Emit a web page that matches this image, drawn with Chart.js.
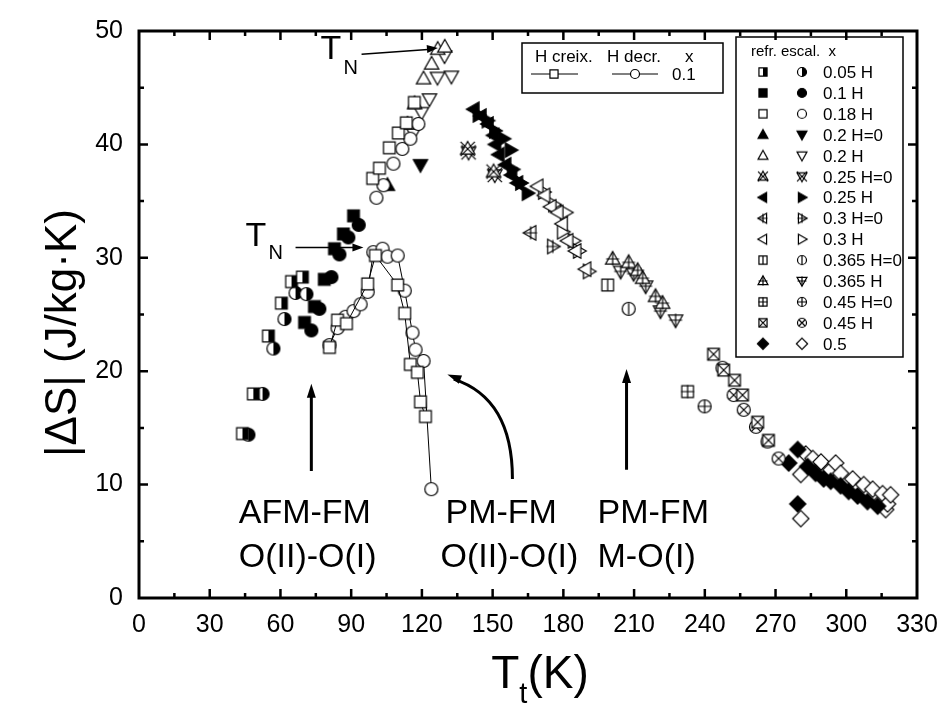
<!DOCTYPE html>
<html>
<head>
<meta charset="utf-8">
<script src="https://cdn.jsdelivr.net/npm/chart.js@4/dist/chart.umd.min.js"></script>
<style>
  html, body { margin: 0; background: #fff; }
</style>
</head>
<body>
<canvas id="chart" width="950" height="711"></canvas>
<script>
// [T (K), |dS| (J/kg K)]
const x005Refr = [[43.9,14.5],[48.5,18.0],[54.9,23.1],[60.4,26.0],[64.7,27.9],[69.3,28.3]];
const x005Escal = [[46.4,14.4],[52.4,18.0],[57.0,22.0],[61.7,24.6],[66.4,26.9],[71.0,26.8]];
const x01Refr = [[70.2,24.3],[74.4,25.7],[78.6,28.1],[82.9,30.8],[86.7,32.1],[91.0,33.7]];
const x01Escal = [[73.1,23.6],[76.5,25.5],[81.6,28.3],[85.0,30.3],[88.8,31.8],[93.2,32.9]];
const x018Refr = [[99.1,37.0],[102.0,37.9],[106.2,39.7],[110.0,41.0],[113.4,41.9],[116.8,43.7]];
const x018Escal = [[100.7,35.3],[103.7,36.4],[107.9,38.3],[111.7,39.6],[115.1,40.5],[118.5,41.8]];
const x02H0Refr = [[105.4,36.4]];
const x02H0Escal = [[119.4,38.2]];
const x02HRefr = [[113.9,41.8],[116.9,43.6],[120.7,45.8],[124.1,47.1],[126.7,48.4],[129.7,48.6]];
const x02HEscal = [[116.4,41.0],[119.8,42.8],[123.2,44.0],[126.6,45.9],[132.5,46.0],[129.6,47.8]];
const x025H0Refr = [[139.4,39.6],[150.4,37.6]];
const x025H0Escal = [[139.8,39.3],[150.9,37.3]];
const x025HRefr = [[142.0,43.1],[145.0,42.5],[148.0,41.8],[150.4,40.8],[151.2,40.0],[152.6,39.1],[155.5,38.2],[158.0,37.3],[160.5,36.6]];
const x025HEscal = [[144.0,42.6],[147.8,42.1],[151.0,41.2],[154.6,40.5],[157.6,39.5],[158.5,37.8],[162.0,36.6],[164.8,35.7]];
const x03H0Refr = [[166.1,32.2]];
const x03H0Escal = [[175.5,31.0]];
const x03HRefr = [[169.1,36.3],[172.0,35.5],[174.6,34.5],[177.6,34.0],[179.5,33.0],[181.8,31.5],[185.2,30.6],[189.4,29.0]];
const x03HEscal = [[171.7,35.8],[176.0,34.7],[181.0,34.0],[179.7,32.3],[184.3,31.5],[186.5,30.6],[190.7,28.8]];
const x0365H0Refr = [[198.8,27.6]];
const x0365H0Escal = [[207.7,25.5]];
const x0365HRefr = [[200.9,29.9],[207.7,29.6],[211.5,28.9],[213.6,28.2],[219.1,26.6],[222.1,26.0]];
const x0365HEscal = [[204.3,28.8],[209.8,28.6],[214.9,27.5],[221.2,25.3],[227.6,24.5]];
const x045H0Refr = [[232.7,18.2]];
const x045H0Escal = [[239.9,16.9]];
const x045HRefr = [[243.7,21.5],[248.0,20.1],[252.6,19.2],[256.0,17.9],[262.4,15.5],[267.0,13.9]];
const x045HEscal = [[247.5,20.3],[252.2,17.9],[256.5,16.6],[261.7,15.1],[266.6,13.8],[271.3,12.3]];
const x05Refr = [[275.6,11.9],[279.4,13.1],[279.4,8.3],[283.6,11.6],[287.0,11.0],[290.4,10.5],[293.4,10.3],[297.6,9.9],[301.0,9.4],[304.8,9.0],[309.0,8.5],[313.3,8.1]];
const x05Escal = [[280.7,10.9],[280.7,7.0],[282.8,12.7],[285.8,12.3],[289.3,12.0],[293.4,11.3],[295.5,11.9],[297.6,11.0],[302.7,10.5],[307.4,10.0],[311.2,9.6],[314.6,8.5],[315.4,9.2],[316.7,7.8],[317.5,8.3],[318.8,9.1]];
// x = 0.1 measured with increasing / decreasing field (joined by lines)
const hCreix01 = [[80.8,22.1],[84.2,24.5],[88.0,24.2],[97.0,27.7],[100.3,30.2],[109.7,27.6],[112.7,25.1],[115.1,20.6],[118.1,19.9],[119.4,17.3],[121.5,16.0]];
const hDecr01 = [[80.8,22.3],[84.2,23.8],[87.6,24.8],[91.0,25.3],[94.0,25.9],[97.0,27.0],[99.4,30.5],[103.3,30.8],[105.4,30.1],[109.7,30.2],[112.7,27.1],[116.0,23.4],[117.3,21.9],[120.7,20.9],[124.0,9.6]];

const xTicks = [0, 30, 60, 90, 120, 150, 180, 210, 240, 270, 300, 330];
const yTicks = [0, 10, 20, 30, 40, 50];
const legendLabels = ['0.05 H','0.1 H','0.18 H','0.2 H=0','0.2 H','0.25 H=0','0.25 H','0.3 H=0','0.3 H','0.365 H=0','0.365 H','0.45 H=0','0.45 H','0.5'];

const FONT = '"Liberation Sans", Arial, Helvetica, sans-serif';

// marker pictures: shape, fill ('w' white, 'b' black, 'h' half), overlay
function marker(shape, fill, over, size) {
  const d = Math.ceil(size * 1.5) + 4;
  const c = document.createElement('canvas');
  c.width = d; c.height = d;
  const g = c.getContext('2d');
  const m = d / 2, r = size / 2;
  const path = () => {
    g.beginPath();
    if (shape === 'sq') g.rect(m - r * 0.9, m - r * 0.9, r * 1.8, r * 1.8);
    else if (shape === 'ci') g.arc(m, m, r, 0, Math.PI * 2);
    else if (shape === 'up') { g.moveTo(m, m - r * 1.15); g.lineTo(m + r * 1.1, m + r * 0.8); g.lineTo(m - r * 1.1, m + r * 0.8); g.closePath(); }
    else if (shape === 'dn') { g.moveTo(m, m + r * 1.15); g.lineTo(m + r * 1.1, m - r * 0.8); g.lineTo(m - r * 1.1, m - r * 0.8); g.closePath(); }
    else if (shape === 'lt') { g.moveTo(m - r * 1.15, m); g.lineTo(m + r * 0.8, m - r * 1.1); g.lineTo(m + r * 0.8, m + r * 1.1); g.closePath(); }
    else if (shape === 'rt') { g.moveTo(m + r * 1.15, m); g.lineTo(m - r * 0.8, m - r * 1.1); g.lineTo(m - r * 0.8, m + r * 1.1); g.closePath(); }
    else if (shape === 'di') { g.moveTo(m, m - r * 1.25); g.lineTo(m + r * 1.25, m); g.lineTo(m, m + r * 1.25); g.lineTo(m - r * 1.25, m); g.closePath(); }
  };
  g.lineWidth = 1.2;
  g.strokeStyle = '#000';
  path();
  g.fillStyle = fill === 'b' ? '#000' : '#fff';
  g.fill();
  if (fill === 'h') {
    g.save();
    g.beginPath(); g.rect(m, 0, d, d); g.clip();
    path(); g.fillStyle = '#000'; g.fill();
    g.restore();
  }
  path(); g.stroke();
  g.beginPath();
  const k = shape === 'ci' ? r * 0.72 : r * 0.9;
  if (over === 'x') { g.moveTo(m - k, m - k); g.lineTo(m + k, m + k); g.moveTo(m + k, m - k); g.lineTo(m - k, m + k); }
  if (over === 'bx') { g.moveTo(m - r * 1.1, m - r * 1.1); g.lineTo(m + r * 1.1, m + r * 1.1); g.moveTo(m + r * 1.1, m - r * 1.1); g.lineTo(m - r * 1.1, m + r * 1.1); }
  if (over === '+') { g.moveTo(m - r, m); g.lineTo(m + r, m); g.moveTo(m, m - r); g.lineTo(m, m + r); }
  if (over === '|') { g.moveTo(m, m - r * 0.9); g.lineTo(m, m + r * 0.9); }
  g.stroke();
  return c;
}

// one entry per legend row: [refr data, escal data, refr marker, escal marker]
const rows = [
  [x005Refr, x005Escal, ['sq','h'], ['ci','h']],
  [x01Refr, x01Escal, ['sq','b'], ['ci','b']],
  [x018Refr, x018Escal, ['sq','w'], ['ci','w']],
  [x02H0Refr, x02H0Escal, ['up','b'], ['dn','b']],
  [x02HRefr, x02HEscal, ['up','w'], ['dn','w']],
  [x025H0Refr, x025H0Escal, ['up','w','bx'], ['dn','w','bx']],
  [x025HRefr, x025HEscal, ['lt','b'], ['rt','b']],
  [x03H0Refr, x03H0Escal, ['lt','w','+'], ['rt','w','+']],
  [x03HRefr, x03HEscal, ['lt','w'], ['rt','w']],
  [x0365H0Refr, x0365H0Escal, ['sq','w','|'], ['ci','w','|']],
  [x0365HRefr, x0365HEscal, ['up','w','+'], ['dn','w','+']],
  [x045H0Refr, x045H0Escal, ['sq','w','+'], ['ci','w','+']],
  [x045HRefr, x045HEscal, ['sq','w','x'], ['ci','w','x']],
  [x05Refr, x05Escal, ['di','b'], ['di','w']]
];

const toPts = arr => arr.map(p => ({ x: p[0], y: p[1] }));
const datasets = [];
rows.forEach((row, i) => {
  datasets.push({ label: legendLabels[i] + ' refr', data: toPts(row[0]), pointStyle: marker(row[2][0], row[2][1], row[2][2], 13), pointRadius: 6, showLine: false });
  datasets.push({ label: legendLabels[i] + ' escal', data: toPts(row[1]), pointStyle: marker(row[3][0], row[3][1], row[3][2], 13), pointRadius: 6, showLine: false });
});
datasets.push({ label: 'H creix.', data: toPts(hCreix01), pointStyle: marker('sq','w',null,13), pointRadius: 6, showLine: true, borderColor: '#000', borderWidth: 1 });
datasets.push({ label: 'H decr.', data: toPts(hDecr01), pointStyle: marker('ci','w',null,13), pointRadius: 6, showLine: true, borderColor: '#000', borderWidth: 1 });

const smallMarks = rows.map(row => [marker(row[2][0], row[2][1], row[2][2], 9), marker(row[3][0], row[3][1], row[3][2], 9)]);

function arrowHead(ctx, x1, y1, x2, y2, len, wid) {
  const a = Math.atan2(y2 - y1, x2 - x1);
  ctx.beginPath();
  ctx.moveTo(x2, y2);
  ctx.lineTo(x2 - len * Math.cos(a) + wid * Math.sin(a), y2 - len * Math.sin(a) - wid * Math.cos(a));
  ctx.lineTo(x2 - len * Math.cos(a) - wid * Math.sin(a), y2 - len * Math.sin(a) + wid * Math.cos(a));
  ctx.closePath();
  ctx.fill();
}

const deco = {
  id: 'deco',
  afterDraw(chart) {
    const ctx = chart.ctx;
    const { left, right, top, bottom } = chart.chartArea;
    const sx = chart.scales.x, sy = chart.scales.y;
    const X = v => sx.getPixelForValue(v), Y = v => sy.getPixelForValue(v);
    ctx.save();
    ctx.strokeStyle = '#000';
    ctx.fillStyle = '#000';
    // frame and inward ticks
    ctx.lineWidth = 3;
    ctx.strokeRect(left, top, right - left, bottom - top);
    ctx.lineWidth = 2.5;
    ctx.beginPath();
    for (let v = 15; v < 330; v += 15) {
      const len = v % 30 === 0 ? 9 : 5, px = X(v);
      ctx.moveTo(px, bottom); ctx.lineTo(px, bottom - len);
      ctx.moveTo(px, top); ctx.lineTo(px, top + len);
    }
    for (let v = 5; v < 50; v += 5) {
      const len = v % 10 === 0 ? 9 : 5, py = Y(v);
      ctx.moveTo(left, py); ctx.lineTo(left + len, py);
      ctx.moveTo(right, py); ctx.lineTo(right - len, py);
    }
    ctx.stroke();

    // axis titles
    ctx.textBaseline = 'alphabetic';
    ctx.font = '44px ' + FONT;
    ctx.save();
    ctx.translate(76, 333);
    ctx.rotate(-Math.PI / 2);
    ctx.textAlign = 'center';
    ctx.fillText('|\u0394S| (J/kg\u00b7K)', 0, 0);
    ctx.restore();
    ctx.textAlign = 'left';
    ctx.font = '46px ' + FONT;
    const wT = ctx.measureText('T').width, wK = ctx.measureText('(K)').width;
    ctx.font = '29px ' + FONT;
    const wt = ctx.measureText('t').width;
    let x0 = 540 - (wT + wt + wK) / 2;
    ctx.font = '46px ' + FONT;
    ctx.fillText('T', x0, 688);
    ctx.font = '29px ' + FONT;
    ctx.fillText('t', x0 + wT, 703);
    ctx.font = '46px ' + FONT;
    ctx.fillText('(K)', x0 + wT + wt, 688);

    // annotations
    ctx.font = '34px ' + FONT;
    ctx.fillText('T', X(77.0), Y(47.5));
    ctx.fillText('T', X(45.2), Y(31.0));
    ctx.font = '20px ' + FONT;
    ctx.fillText('N', X(86.7), Y(46.2));
    ctx.fillText('N', X(54.9), Y(29.9));
    ctx.lineWidth = 1.5;
    ctx.beginPath();
    ctx.moveTo(X(94.4), Y(47.95)); ctx.lineTo(X(124), Y(48.4));
    ctx.moveTo(X(66.4), Y(30.9)); ctx.lineTo(X(92), Y(30.9));
    ctx.stroke();
    arrowHead(ctx, X(94.4), Y(47.95), X(126.8), Y(48.5), 11, 4);
    arrowHead(ctx, X(66.4), Y(30.9), X(95.2), Y(30.9), 11, 4);

    ctx.lineWidth = 3;
    ctx.beginPath();
    ctx.moveTo(X(73.1), Y(11.2)); ctx.lineTo(X(73.1), Y(17.8));
    ctx.moveTo(X(206.8), Y(11.3)); ctx.lineTo(X(206.8), Y(19.1));
    ctx.moveTo(X(158.4), Y(10.5));
    ctx.quadraticCurveTo(X(158.4), Y(17.6), X(133.5), Y(19.3));
    ctx.stroke();
    arrowHead(ctx, X(73.1), Y(11.2), X(73.1), Y(18.9), 14, 4.5);
    arrowHead(ctx, X(206.8), Y(11.3), X(206.8), Y(20.2), 14, 4.5);
    arrowHead(ctx, X(137), Y(19.2), X(130.8), Y(19.7), 14, 4.5);

    ctx.font = '34px ' + FONT;
    ctx.fillText('AFM-FM', X(42.3), Y(6.63));
    ctx.fillText('O(II)-O(I)', X(42.3), Y(2.7));
    ctx.fillText('PM-FM', X(130.0), Y(6.63));
    ctx.fillText('O(II)-O(I)', X(127.9), Y(2.7));
    ctx.fillText('PM-FM', X(194.5), Y(6.63));
    ctx.fillText('M-O(I)', X(194.5), Y(2.7));

    // legend for the x = 0.1 field runs
    ctx.lineWidth = 1.5;
    ctx.strokeRect(522, 43, 201, 50);
    ctx.font = '17px ' + FONT;
    ctx.fillText('H creix.', 535, 62);
    ctx.fillText('H decr.', 607, 62);
    ctx.fillText('x', 685, 62);
    ctx.fillText('0.1', 672, 80);
    ctx.lineWidth = 1;
    ctx.beginPath();
    ctx.moveTo(531, 74); ctx.lineTo(578, 74);
    ctx.moveTo(612, 74); ctx.lineTo(658, 74);
    ctx.stroke();
    const lsq = marker('sq', 'w', null, 9), lci = marker('ci', 'w', null, 9);
    ctx.drawImage(lsq, 554 - lsq.width / 2, 74 - lsq.height / 2);
    ctx.drawImage(lci, 635 - lci.width / 2, 74 - lci.height / 2);

    // legend of compositions
    ctx.lineWidth = 1.5;
    ctx.strokeRect(736, 37, 167, 320);
    ctx.font = '15px ' + FONT;
    ctx.fillText('refr. escal.  x', 751, 56);
    ctx.font = '17px ' + FONT;
    legendLabels.forEach((lab, i) => {
      const cy = 72 + i * 20.9;
      const a = smallMarks[i][0], b = smallMarks[i][1];
      ctx.drawImage(a, 763 - a.width / 2, cy - a.height / 2);
      ctx.drawImage(b, 802 - b.width / 2, cy - b.height / 2);
      ctx.fillText(lab, 823, cy + 6);
    });
    ctx.restore();
  }
};

new Chart(document.getElementById('chart'), {
  type: 'scatter',
  data: { datasets },
  options: {
    responsive: false,
    animation: false,
    layout: { padding: { top: 25, right: 33, left: 0, bottom: 0 } },
    plugins: { legend: { display: false }, tooltip: { enabled: false } },
    scales: {
      x: {
        type: 'linear', min: 0, max: 330,
        afterBuildTicks: s => { s.ticks = xTicks.map(v => ({ value: v })); },
        afterFit: s => { s.height = 113; },
        grid: { display: false, drawTicks: false },
        border: { display: false },
        ticks: { color: '#000', padding: 12, maxRotation: 0, font: { size: 25, family: FONT } }
      },
      y: {
        type: 'linear', min: 0, max: 50,
        afterBuildTicks: s => { s.ticks = yTicks.map(v => ({ value: v })); },
        afterFit: s => { s.width = 139; },
        grid: { display: false, drawTicks: false },
        border: { display: false },
        ticks: { color: '#000', padding: 16, font: { size: 25, family: FONT } }
      }
    }
  },
  plugins: [deco]
});
</script>
</body>
</html>
